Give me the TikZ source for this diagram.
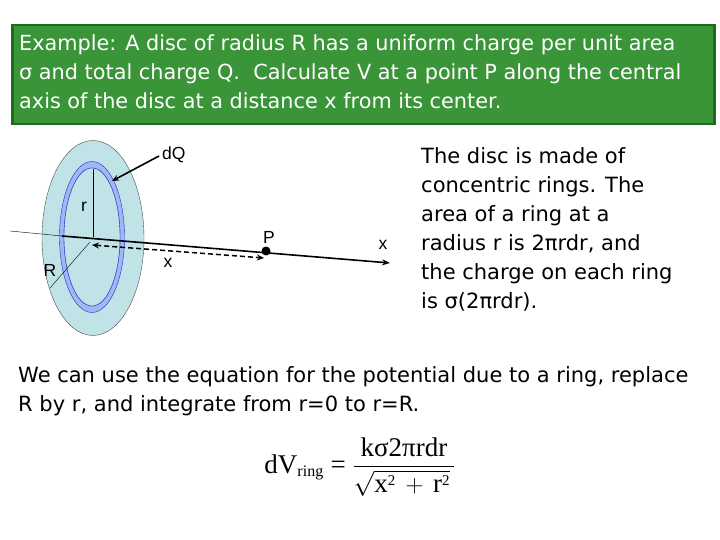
\documentclass[tikz,border=0pt]{standalone}
\usepackage{amsmath}
\usepackage{fontspec}
\setmainfont{DejaVu Sans}
\setsansfont{Liberation Sans}
\newfontfamily\eqfont{Liberation Serif}
\usetikzlibrary{arrows.meta,shapes.geometric}
\definecolor{hdrgreen}{HTML}{3A9438}
\definecolor{hdrborder}{HTML}{1E6B1E}
\definecolor{discfill}{HTML}{BFE3E6}
\definecolor{ringfill}{HTML}{9DB8F2}
\definecolor{ringline}{HTML}{2A2AD0}
\begin{document}
\begin{tikzpicture}[x=1pt,y=-1pt,
  lbl/.style={font=\sffamily\fontsize{17.5}{17.5}\selectfont,inner sep=0pt},
  body/.style={font=\fontsize{21}{29}\selectfont,align=left,inner sep=0pt,anchor=north west}]
\useasboundingbox (0,0) rectangle (720,540);
\fill[white] (0,0) rectangle (720,540);
% header
\node[draw=hdrborder,line width=2.5pt,fill=hdrgreen,minimum width=702pt,minimum height=99pt,anchor=north west,inner sep=0pt] (hdr) at (11,24) {};
\node[body,text=white,font=\fontsize{20.8}{29}\selectfont] (htxt) at (19,34) {Example: A disc of radius R has a uniform charge per unit area\\σ and total charge Q.\ \ Calculate V at a point P along the central\\axis of the disc at a distance x from its center.};
% disc
\node[draw=black!70,fill=discfill,ellipse,minimum width=102pt,minimum height=195pt,inner sep=0pt] (disc) at (93,238) {};
\path[draw=ringline,fill=ringfill,even odd rule] (92,237) ellipse [x radius=32.5,y radius=75.5] (92,237) ellipse [x radius=28,y radius=69];
\fill[discfill] (92,237) ellipse [x radius=28,y radius=69];
\draw[ringline] (92,237) ellipse [x radius=28,y radius=69];
\coordinate (c) at (93,237);
\coordinate (rtop) at (93,169);
\coordinate (Rend) at (50,288);
\coordinate (axL) at (10,231);
\coordinate (axM) at (62,236);
\coordinate (axE) at (390,263);
\coordinate (ringpt) at (112,181);
\draw (c) -- (rtop);
\draw (90,242) -- (Rend);
\draw (axL) -- (axM);
\draw[line width=1.6pt,-{Stealth[length=8pt,width=6pt]}] (axM) -- (axE);
\node[circle,fill=black,inner sep=0pt,minimum size=9pt] (P) at (266,251) {};
\draw[line width=1.5pt,dash pattern=on 5pt off 3pt,{Stealth[length=7pt,width=6pt]}-{Stealth[length=7pt,width=6pt]}] (92,245) -- (264,258);
\node[lbl,anchor=west] (dQ) at (162,155) {dQ};
\draw[line width=1.6pt,-{Stealth[length=7pt,width=6pt]}] (dQ.west) ++(-3,1) -- (ringpt);
\node[lbl] (rl) at (84,207) {r};
\node[lbl] (Rl) at (50,270) {R};
\node[lbl] (xl) at (168,263) {x};
\node[lbl] (Pl) at (269,237) {P};
\node[lbl] (xa) at (383,245) {x};
% right text
\node[body] (rtxt) at (421,147) {The disc is made of\\concentric rings. The\\area of a ring at a\\radius r is 2πrdr, and\\the charge on each ring\\is σ(2πrdr).};
\node[body] (btxt) at (18,366) {We can use the equation for the potential due to a ring, replace\\R by r, and integrate from r=0 to r=R.};
% equation
\node[inner sep=0pt,font=\eqfont\fontsize{27}{27}\selectfont] (eq) at (360,467) {dV$_{\text{\eqfont\fontsize{16}{16}\selectfont ring}}$ = $\dfrac{\text{\eqfont kσ2πrdr}}{\sqrt{\text{\eqfont x}^{\text{\eqfont\fontsize{15}{15}\selectfont 2}}\,+\,\text{\eqfont r}^{\text{\eqfont\fontsize{15}{15}\selectfont 2}}}\,}$};
\end{tikzpicture}
\end{document}
